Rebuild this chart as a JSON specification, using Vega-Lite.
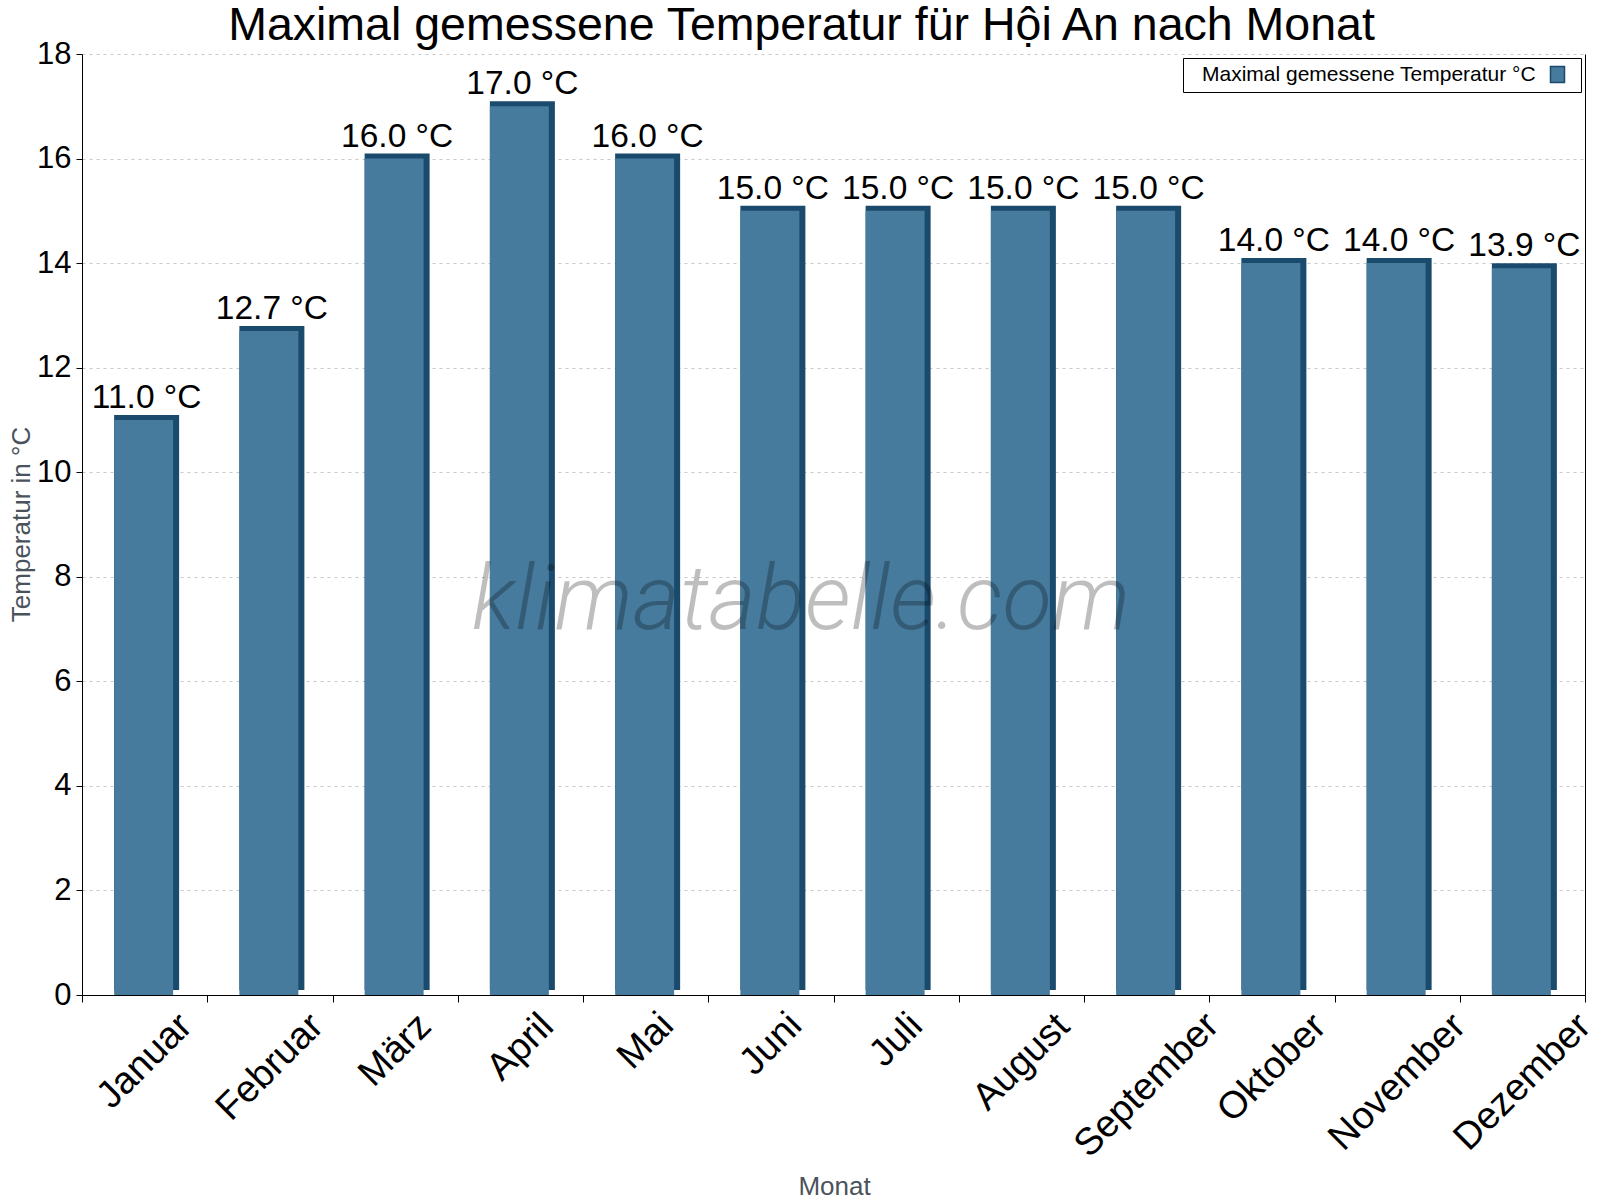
{
  "$schema": "https://vega.github.io/schema/vega-lite/v6.json",
  "width": 1503,
  "height": 941,
  "autosize": "none",
  "padding": {"left": 82, "top": 54, "right": 15, "bottom": 205},
  "background": "white",
  "config": {"font": "Liberation Sans", "view": {"stroke": null}},
  "title": {
    "text": "Maximal gemessene Temperatur für Hội An nach Monat",
    "fontSize": 46.5,
    "fontWeight": "normal",
    "color": "#000000",
    "anchor": "middle",
    "frame": "group",
    "dx": -32,
    "dy": 47,
    "offset": -1,
    "baseline": "alphabetic"
  },
  "data": {
    "values": [
      {"month": "Januar", "temp": 11.0},
      {"month": "Februar", "temp": 12.7},
      {"month": "März", "temp": 16.0},
      {"month": "April", "temp": 17.0},
      {"month": "Mai", "temp": 16.0},
      {"month": "Juni", "temp": 15.0},
      {"month": "Juli", "temp": 15.0},
      {"month": "August", "temp": 15.0},
      {"month": "September", "temp": 15.0},
      {"month": "Oktober", "temp": 14.0},
      {"month": "November", "temp": 14.0},
      {"month": "Dezember", "temp": 13.9}
    ]
  },
  "transform": [
    {"calculate": "format(datum.temp, '.1f') + ' °C'", "as": "label"}
  ],
  "layer": [
    {
      "mark": {"type": "bar", "color": "#1a4a6c", "width": 65, "xOffset": 2, "yOffset": -5},
      "encoding": {
        "x": {
          "field": "month",
          "type": "nominal",
          "scale": {
            "domain": ["Januar", "Februar", "März", "April", "Mai", "Juni", "Juli", "August", "September", "Oktober", "November", "Dezember"],
            "paddingInner": 0,
            "paddingOuter": 0
          },
          "axis": {
            "title": "Monat",
            "titleFontSize": 26,
            "titleFontWeight": "normal",
            "titleColor": "#4a535c",
            "titleX": 752,
            "titleY": 199,
            "titleBaseline": "alphabetic",
            "labelAngle": -45,
            "labelAlign": "center",
            "labelBaseline": "middle",
            "labelFontSize": 38,
            "labelColor": "#000000",
            "labelLimit": 400,
            "labelPadding": {
              "condition": [
                {"test": "datum.value == 'Januar'", "value": 59},
                {"test": "datum.value == 'Februar'", "value": 65},
                {"test": "datum.value == 'März'", "value": 48},
                {"test": "datum.value == 'April'", "value": 45},
                {"test": "datum.value == 'Mai'", "value": 39},
                {"test": "datum.value == 'Juni'", "value": 42},
                {"test": "datum.value == 'Juli'", "value": 38},
                {"test": "datum.value == 'August'", "value": 60},
                {"test": "datum.value == 'September'", "value": 83},
                {"test": "datum.value == 'Oktober'", "value": 66}
              ],
              "value": 80
            },
            "labelOverlap": false,
            "labelBound": false,
            "labelFlush": false,
            "tickSize": 7,
            "tickColor": "#000000",
            "domainColor": "#000000",
            "tickBand": "extent",
            "grid": false
          }
        },
        "y": {
          "field": "temp",
          "type": "quantitative",
          "scale": {"domain": [0, 18], "nice": false},
          "axis": {
            "values": [0, 2, 4, 6, 8, 10, 12, 14, 16, 18],
            "labelFontSize": 31,
            "labelColor": "#000000",
            "labelPadding": 5,
            "tickSize": 6,
            "tickColor": "#000000",
            "domainColor": "#000000",
            "grid": true,
            "gridColor": "#c8c8c8",
            "gridDash": [3, 4],
            "title": "Temperatur in °C",
            "titleFontSize": 26,
            "titleFontWeight": "normal",
            "titleColor": "#4a535c",
            "titleX": -53,
            "titleY": 470,
            "titleAlign": "center",
            "titleBaseline": "alphabetic"
          }
        }
      }
    },
    {
      "mark": {"type": "bar", "width": 59, "xOffset": -1},
      "encoding": {
        "x": {"field": "month", "type": "nominal"},
        "y": {"field": "temp", "type": "quantitative", "axis": null},
        "color": {
          "datum": "Maximal gemessene Temperatur °C",
          "type": "nominal",
          "scale": {"range": ["#467b9d"]},
          "legend": {
            "title": null,
            "orient": "top-right",
            "offset": 4,
            "padding": 6,
            "strokeColor": "#000000",
            "fillColor": "#ffffff",
            "labelFontSize": 21,
            "labelColor": "#000000",
            "labelLimit": 600,
            "labelOffset": -366,
            "symbolOffset": 358,
            "symbolType": "M-0.875,-1V1H0.875V-1ZM1.75,0",
            "symbolSize": 256,
            "symbolStrokeColor": "#1a4a6c",
            "symbolStrokeWidth": 1.5
          }
        }
      }
    },
    {
      "mark": {"type": "text", "fontSize": 33.5, "baseline": "alphabetic", "align": "center", "dy": -12, "dx": 2, "color": "#000000"},
      "encoding": {
        "x": {"field": "month", "type": "nominal"},
        "y": {"field": "temp", "type": "quantitative", "axis": null},
        "text": {"field": "label"}
      }
    },
    {
      "data": {"values": [{"site": "klimatabelle.com"}]},
      "mark": {
        "type": "text",
        "font": "Roboto",
        "fontStyle": "italic",
        "fontWeight": 300,
        "fontSize": 91,
        "color": "#000000",
        "opacity": 0.25,
        "dx": 30,
        "align": "center",
        "baseline": "alphabetic"
      },
      "encoding": {
        "x": {"datum": "Juni", "type": "nominal"},
        "y": {"datum": 7, "type": "quantitative", "axis": null},
        "text": {"field": "site"}
      }
    },
    {
      "mark": {"type": "rule", "opacity": 0},
      "encoding": {
        "y": {
          "datum": 0,
          "type": "quantitative",
          "axis": {"orient": "right", "labels": false, "ticks": false, "grid": false, "title": null, "domainColor": "#000000"}
        }
      }
    }
  ],
  "resolve": {"axis": {"y": "independent"}}
}
